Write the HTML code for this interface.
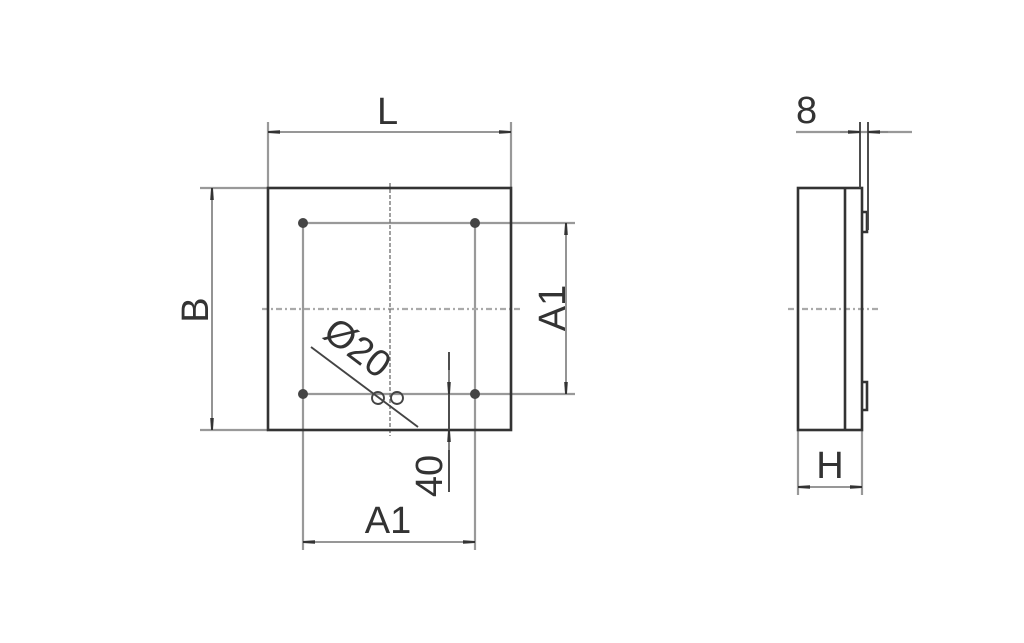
<!DOCTYPE html>
<html><head><style>body{margin:0;background:#fff}svg{display:block}text{font-family:"Liberation Sans",sans-serif;fill:#333}</style></head>
<body>
<svg width="1024" height="643" viewBox="0 0 1024 643">
<defs><marker id="a" viewBox="0 0 10 4" refX="10" refY="2" markerWidth="12" markerHeight="5" orient="auto-start-reverse" markerUnits="userSpaceOnUse"><path d="M0,0.5L10,1.2L10,2.8L0,3.5z" fill="#333"/></marker></defs>
<g stroke="#999" stroke-width="2.2" fill="none">
<line x1="268" y1="122" x2="268" y2="188"/><line x1="511" y1="122" x2="511" y2="430"/>
<line x1="200" y1="188" x2="268" y2="188"/><line x1="200" y1="430" x2="268" y2="430"/>
<line x1="303" y1="223" x2="575" y2="223"/><line x1="303" y1="394" x2="575" y2="394"/>
<line x1="303" y1="223" x2="303" y2="550"/><line x1="475" y1="223" x2="475" y2="550"/>
<line x1="796" y1="132" x2="912" y2="132"/>
<line x1="798" y1="430" x2="798" y2="495"/><line x1="862" y1="430" x2="862" y2="495"/>
</g>
<g stroke="#aaa" stroke-width="2.2" stroke-dasharray="6,3,2,3" fill="none">
<line x1="262" y1="309" x2="520" y2="309"/><line x1="788" y1="309" x2="880" y2="309"/>
</g>
<line x1="390" y1="183" x2="390" y2="436" stroke="#777" stroke-width="1.4" stroke-dasharray="4,2"/>
<g stroke="#333" stroke-width="2.6" fill="none">
<rect x="268" y="188" width="243" height="242"/>
<rect x="798" y="188" width="64" height="242"/>
<line x1="845" y1="188" x2="845" y2="430"/>
<path d="M862,212h5v20h-5M862,382h5v28h-5"/>
</g>
<g stroke="#444" stroke-width="1.9" fill="none">
<line x1="860" y1="122" x2="860" y2="188"/><line x1="868" y1="122" x2="868" y2="230"/>
<line x1="449" y1="352" x2="449" y2="492"/>
<line x1="311" y1="347" x2="418" y2="427"/>
<circle cx="378" cy="398" r="6"/><circle cx="397" cy="398" r="6"/>
</g>
<g fill="#444"><circle cx="303" cy="223" r="5"/><circle cx="475" cy="223" r="5"/><circle cx="303" cy="394" r="5"/><circle cx="475" cy="394" r="5"/></g>
<g stroke="#888" stroke-width="1.8" fill="none">
<line x1="268" y1="132" x2="511" y2="132" marker-start="url(#a)" marker-end="url(#a)"/>
<line x1="212" y1="188" x2="212" y2="430" marker-start="url(#a)" marker-end="url(#a)"/>
<line x1="566" y1="223" x2="566" y2="394" marker-start="url(#a)" marker-end="url(#a)"/>
<line x1="303" y1="542" x2="475" y2="542" marker-start="url(#a)" marker-end="url(#a)"/>
<line x1="798" y1="487" x2="862" y2="487" marker-start="url(#a)" marker-end="url(#a)"/>
<line x1="840" y1="132" x2="860" y2="132" marker-end="url(#a)"/><line x1="888" y1="132" x2="868" y2="132" marker-end="url(#a)"/>
<line x1="449" y1="370" x2="449" y2="394" marker-end="url(#a)"/><line x1="449" y1="450" x2="449" y2="430" marker-end="url(#a)"/>
</g>
<g font-size="38">
<text x="377" y="124">L</text>
<text x="208" y="310" transform="rotate(-90 208 310)" text-anchor="middle">B</text>
<text x="565" y="308" transform="rotate(-90 565 308)" text-anchor="middle">A1</text>
<text x="388" y="533" text-anchor="middle">A1</text>
<text x="796" y="123">8</text>
<text x="830" y="478" text-anchor="middle">H</text>
<text x="442" y="476" transform="rotate(-90 442 476)" text-anchor="middle">40</text>
<text x="350" y="358" transform="rotate(37 350 358)" text-anchor="middle">Ø20</text>
</g>
</svg>
</body></html>
